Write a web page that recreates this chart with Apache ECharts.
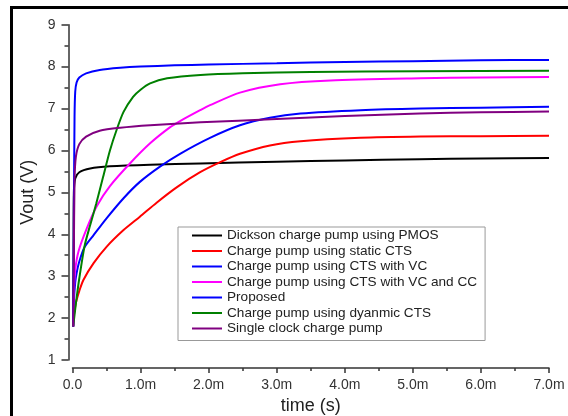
<!DOCTYPE html>
<html>
<head>
<meta charset="utf-8">
<script src="https://cdn.jsdelivr.net/npm/echarts@6/dist/echarts.min.js"></script>
<style>
html,body{margin:0;padding:0;background:#fff;}
#chart{width:568px;height:416px;}
</style>
</head>
<body>
<div id="chart"></div>
<script>
// ---- data (time in ms, Vout in V) ----
const seriesNames = [
  'Dickson charge pump using PMOS',
  'Charge pump using static CTS',
  'Charge pump using CTS with VC',
  'Charge pump using CTS with VC and CC',
  'Proposed',
  'Charge pump using dyanmic CTS',
  'Single clock charge pump'
];
const xTickLabels = ['0.0','1.0m','2.0m','3.0m','4.0m','5.0m','6.0m','7.0m'];
const yTickLabels = ['1','2','3','4','5','6','7','8','9'];

const dickson = [[0.01,1.8],[0.015,3.5],[0.02,5.0],[0.04,5.33],[0.1,5.48],[0.26,5.57],[0.55,5.62],[1.14,5.66],[1.88,5.69],[3,5.73],[4,5.76],[5.1,5.79],[6,5.81],[7,5.82]];
const staticCTS = [[0.01,1.8],[0.02,2.05],[0.04,2.28],[0.06,2.43],[0.1,2.65],[0.16,2.91],[0.31,3.31],[0.5,3.7],[0.75,4.1],[0.99,4.42],[1.24,4.76],[1.53,5.12],[1.875,5.48],[2.17,5.72],[2.46,5.92],[2.9,6.12],[3.35,6.22],[4.23,6.3],[5.11,6.33],[6,6.34],[7,6.35]];
const ctsVC = [[0.01,1.8],[0.02,2.4],[0.04,2.85],[0.06,3.07],[0.1,3.35],[0.18,3.7],[0.31,3.98],[0.5,4.38],[0.75,4.86],[0.99,5.25],[1.29,5.62],[1.58,5.92],[2.02,6.3],[2.46,6.6],[2.9,6.78],[3.35,6.88],[4.23,6.96],[5.11,7.0],[6,7.02],[7,7.04]];
const ctsVCCC = [[0.01,1.8],[0.02,2.6],[0.04,3.15],[0.09,3.6],[0.21,4.14],[0.36,4.68],[0.55,5.15],[0.85,5.7],[1.14,6.17],[1.43,6.55],[1.58,6.7],[1.875,6.96],[2.02,7.08],[2.46,7.38],[3.05,7.58],[3.79,7.67],[5.11,7.72],[6,7.74],[7,7.75]];
const proposed = [[0.01,1.8],[0.02,4.5],[0.03,6.8],[0.04,7.4],[0.06,7.62],[0.1,7.74],[0.2,7.84],[0.4,7.92],[0.7,7.97],[1.0,8.0],[1.5,8.03],[2.0,8.05],[3.0,8.08],[4.0,8.11],[5.0,8.13],[6.0,8.15],[7.0,8.16]];
const dynamicCTS = [[0.01,1.8],[0.05,2.35],[0.1,2.95],[0.18,3.74],[0.26,4.22],[0.35,4.74],[0.45,5.37],[0.55,6.0],[0.65,6.5],[0.75,6.92],[0.89,7.28],[1.0,7.45],[1.14,7.6],[1.39,7.72],[1.88,7.8],[2.5,7.84],[3.5,7.87],[5.1,7.89],[7.0,7.9]];
const singleClock = [[0.01,1.8],[0.02,3.5],[0.03,5.3],[0.05,5.85],[0.1,6.15],[0.2,6.33],[0.4,6.47],[0.7,6.54],[1.14,6.6],[1.88,6.67],[3,6.75],[4,6.82],[5.1,6.88],[6,6.91],[7,6.93]];

const seriesData = [dickson, staticCTS, ctsVC, ctsVCCC, proposed, dynamicCTS, singleClock];
const seriesColors = ['#000000','#ff0000','#0000ff','#ff00ff','#0000ff','#008000','#800080'];

const FONT = "'Liberation Sans', Arial, sans-serif";
const chart = echarts.init(document.getElementById('chart'), null, {renderer:'canvas'});

const option = {
  animation: false,
  backgroundColor: '#ffffff',
  grid: { left: 72.5, right: 19, top: 24.7, bottom: 56, outerBoundsMode: 'none', containLabel: false },
  graphic: [{
    type: 'rect',
    shape: { x: 11.5, y: 7.5, width: 700, height: 600 },
    style: { fill: 'none', stroke: '#000', lineWidth: 3 },
    z: 100
  }],
  legend: {
    orient: 'vertical',
    left: 178, top: 227,
    backgroundColor: '#ffffff',
    borderColor: '#999999', borderWidth: 1,
    padding: [1.5, 8, 5, 13],
    itemWidth: 30, itemHeight: 13, itemGap: 1.5,
    itemStyle: { opacity: 0 },
    textStyle: { fontFamily: FONT, fontSize: 13.6, color: '#222' },
    data: seriesNames
  },
  xAxis: {
    type: 'value', min: 0, max: 7, interval: 1,
    offset: 8,
    name: 'time (s)', nameLocation: 'middle', nameGap: 28,
    nameTextStyle: { fontFamily: FONT, fontSize: 18, color: '#222' },
    axisLine: { show: true, onZero: false, lineStyle: { color: '#333', width: 1.5 } },
    axisTick: { show: true, length: 5, lineStyle: { color: '#333', width: 1.5 } },
    minorTick: { show: true, splitNumber: 2, length: 3, lineStyle: { color: '#333', width: 1.5 } },
    splitLine: { show: false },
    axisLabel: { margin: 10, fontFamily: FONT, fontSize: 14, color: '#333',
      formatter: v => xTickLabels[Math.round(v)] }
  },
  yAxis: {
    type: 'value', min: 1, max: 9, interval: 1,
    offset: 4,
    name: 'Vout (V)', nameLocation: 'middle', nameGap: 25,
    nameTextStyle: { fontFamily: FONT, fontSize: 18, color: '#222' },
    axisLine: { show: true, onZero: false, lineStyle: { color: '#333', width: 1.5 } },
    axisTick: { show: true, length: 7, lineStyle: { color: '#333', width: 1.5 } },
    minorTick: { show: true, splitNumber: 2, length: 4, lineStyle: { color: '#333', width: 1.5 } },
    splitLine: { show: false },
    axisLabel: { margin: 13, fontFamily: FONT, fontSize: 14, color: '#333',
      formatter: v => yTickLabels[Math.round(v) - 1] }
  },
  series: seriesNames.map((n, i) => ({
    name: n, type: 'line', data: seriesData[i],
    symbol: 'none', showSymbol: false,
    smooth: 0.25,
    lineStyle: { color: seriesColors[i], width: 2 },
    itemStyle: { color: seriesColors[i] },
    z: 2 + i
  }))
};
chart.setOption(option);
</script>
</body>
</html>
